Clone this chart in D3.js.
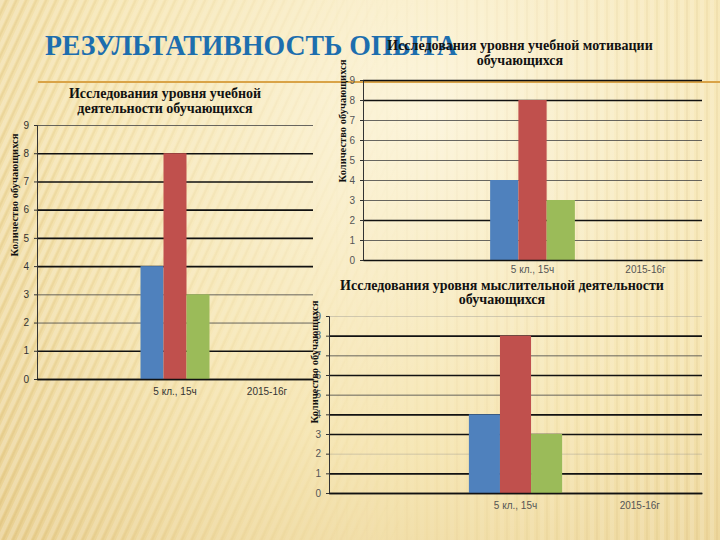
<!DOCTYPE html>
<html>
<head>
<meta charset="utf-8">
<script src="https://cdn.jsdelivr.net/npm/d3@7"></script>
<style>
  html, body { margin: 0; padding: 0; background: #F7EAC0; }
  svg { display: block; }
</style>
</head>
<body>
<svg id="slide" width="720" height="540"></svg>
<script>
// ---------- data ----------
const slideTitle = "РЕЗУЛЬТАТИВНОСТЬ ОПЫТА";
const categories = ["", "5 кл., 15ч", "2015-16г"];
const dataCategory = "5 кл., 15ч";
const seriesNames = ["Ряд 1", "Ряд 2", "Ряд 3"];
const learningActivityValues = [4, 8, 3];
const learningMotivationValues = [4, 8, 3];
const thinkingActivityValues = [4, 8, 3];
const yTickValues = [0, 1, 2, 3, 4, 5, 6, 7, 8, 9];
const yAxisLabel = "Количество обучающихся";
const titleActivity = ["Исследования уровня учебной", "деятельности обучающихся"];
const titleMotivation = ["Исследования уровня учебной мотивации", "обучающихся"];
const titleThinking = ["Исследования уровня мыслительной деятельности", "обучающихся"];
const seriesColors = ["#4F81BD", "#C0504D", "#9BBB59"];

// ---------- layout ----------
const svg = d3.select("#slide");
const defs = svg.append("defs");

const bg = defs.append("radialGradient").attr("id", "bgGrad")
  .attr("gradientUnits", "userSpaceOnUse")
  .attr("cx", 430).attr("cy", 110).attr("r", 620);
bg.append("stop").attr("offset", "0").attr("stop-color", "#FCF5DC");
bg.append("stop").attr("offset", "0.55").attr("stop-color", "#F6E6B4");
bg.append("stop").attr("offset", "1").attr("stop-color", "#E8CE8E");

const diag = defs.append("pattern").attr("id", "diag")
  .attr("patternUnits", "userSpaceOnUse").attr("width", 9).attr("height", 9)
  .attr("patternTransform", "rotate(25)");
diag.append("rect").attr("width", 4).attr("height", 9).attr("fill", "rgba(255,255,255,0.22)");
diag.append("rect").attr("x", 5).attr("width", 2).attr("height", 9).attr("fill", "rgba(190,150,60,0.12)");

const vert = defs.append("pattern").attr("id", "vert")
  .attr("patternUnits", "userSpaceOnUse").attr("width", 10).attr("height", 10);
vert.append("rect").attr("width", 4).attr("height", 10).attr("fill", "rgba(255,255,255,0.16)");
vert.append("rect").attr("x", 6).attr("width", 2).attr("height", 10).attr("fill", "rgba(170,130,50,0.07)");

const fadeL = defs.append("linearGradient").attr("id", "fadeL");
fadeL.append("stop").attr("offset", "0").attr("stop-color", "#fff").attr("stop-opacity", 1);
fadeL.append("stop").attr("offset", "1").attr("stop-color", "#fff").attr("stop-opacity", 0);
defs.append("mask").attr("id", "maskL")
  .append("rect").attr("width", 420).attr("height", 540).attr("fill", "url(#fadeL)");
const fadeR = defs.append("linearGradient").attr("id", "fadeR");
fadeR.append("stop").attr("offset", "0").attr("stop-color", "#fff").attr("stop-opacity", 0);
fadeR.append("stop").attr("offset", "1").attr("stop-color", "#fff").attr("stop-opacity", 1);
defs.append("mask").attr("id", "maskR")
  .append("rect").attr("x", 300).attr("width", 420).attr("height", 540).attr("fill", "url(#fadeR)");

svg.append("rect").attr("width", 720).attr("height", 540).attr("fill", "url(#bgGrad)");
svg.append("rect").attr("width", 420).attr("height", 540).attr("fill", "url(#diag)").attr("mask", "url(#maskL)");
svg.append("rect").attr("x", 300).attr("width", 420).attr("height", 540).attr("fill", "url(#vert)").attr("mask", "url(#maskR)");

// orange rule under title
svg.append("line").attr("x1", 38).attr("x2", 720).attr("y1", 82).attr("y2", 82)
  .attr("stroke", "#D9A347").attr("stroke-width", 2.2);

// slide title
svg.append("text").attr("x", 45).attr("y", 55)
  .attr("font-family", "Liberation Serif, serif").attr("font-weight", "bold")
  .attr("font-size", 30).attr("fill", "#1D6EAE")
  .attr("textLength", 412).attr("lengthAdjust", "spacingAndGlyphs")
  .text(slideTitle);

// ---------- chart builder ----------
function drawChart(cfg) {
  const g = svg.append("g");
  const x = d3.scaleBand().domain(categories).range([cfg.left, cfg.right]);
  const y = d3.scaleLinear().domain([0, 9]).range([cfg.bottom, cfg.top]);

  // gridlines
  const grid = g.append("g").attr("transform", `translate(${cfg.left},0)`)
    .call(d3.axisLeft(y).tickValues(yTickValues).tickSize(-(cfg.right - cfg.left)).tickFormat(""));
  grid.select(".domain").remove();
  grid.selectAll(".tick line")
    .attr("stroke", (d) => cfg.gridStyle[d] === "b" ? "#111" : cfg.gridStyle[d] === "t" ? "#444" : "#888")
    .attr("stroke-width", (d) => cfg.gridStyle[d] === "b" ? 1.6 : 1)
    .attr("stroke-opacity", (d) => cfg.gridStyle[d] === "f" ? 0.35 : (cfg.gridStyle[d] === "t" ? 0.8 : 1));

  // bars
  const groupW = x.bandwidth() * 0.75;
  const xs = d3.scaleBand().domain(seriesNames).range([0, groupW]);
  const x0 = x(dataCategory) + (x.bandwidth() - groupW) / 2;
  g.append("g").selectAll("rect").data(cfg.values).join("rect")
    .attr("x", (d, i) => x0 + xs(seriesNames[i]))
    .attr("width", xs.bandwidth())
    .attr("y", (d) => y(d))
    .attr("height", (d) => y(0) - y(d))
    .attr("fill", (d, i) => seriesColors[i]);

  // y axis with labels
  const ya = g.append("g").attr("transform", `translate(${cfg.left},0)`)
    .call(d3.axisLeft(y).tickValues(yTickValues).tickSize(3).tickPadding(cfg.tickPad).tickFormat(d3.format("d")));
  ya.select(".domain").attr("stroke", "#333").attr("stroke-width", 1);
  ya.selectAll(".tick line").attr("stroke", "#333");
  ya.selectAll(".tick text").attr("font-family", "Liberation Sans, Arial, sans-serif")
    .attr("font-size", 10).attr("fill", cfg.tickColor);

  // x axis line and labels
  const xa = g.append("g").attr("transform", `translate(0,${cfg.bottom})`)
    .call(d3.axisBottom(x).tickSize(0).tickPadding(cfg.catPad));
  xa.select(".domain").attr("stroke", "#111").attr("stroke-width", 1.5);
  xa.selectAll(".tick text").attr("font-family", "Liberation Sans, Arial, sans-serif")
    .attr("font-size", 10).attr("fill", cfg.tickColor);

  // y axis title
  g.append("text")
    .attr("transform", `translate(${cfg.yLabelX},${cfg.yLabelY}) rotate(-90)`)
    .attr("text-anchor", "middle")
    .attr("font-family", "Liberation Serif, serif").attr("font-weight", "bold")
    .attr("font-size", 10.5).attr("fill", "#111")
    .text(yAxisLabel);

  // chart title
  cfg.title.forEach((line, i) => {
    g.append("text").attr("x", cfg.titleX).attr("y", cfg.titleY + i * cfg.titleGap)
      .attr("text-anchor", "middle")
      .attr("font-family", "Liberation Serif, serif").attr("font-weight", "bold")
      .attr("font-size", 14).attr("fill", "#111")
      .text(line);
  });
}

drawChart({
  left: 37, right: 313, top: 125, bottom: 379,
  values: learningActivityValues,
  gridStyle: { 0: "b", 1: "b", 2: "t", 3: "t", 4: "b", 5: "b", 6: "b", 7: "b", 8: "b", 9: "t" },
  tickPad: 5, catPad: 9, tickColor: "#333",
  yLabelX: 18, yLabelY: 195,
  title: titleActivity, titleX: 165, titleY: 98, titleGap: 15
});

drawChart({
  left: 363, right: 702, top: 80, bottom: 260,
  values: learningMotivationValues,
  gridStyle: { 0: "t", 1: "t", 2: "b", 3: "t", 4: "t", 5: "t", 6: "t", 7: "t", 8: "b", 9: "b" },
  tickPad: 5, catPad: 6, tickColor: "#555",
  yLabelX: 346, yLabelY: 121,
  title: titleMotivation, titleX: 520, titleY: 50, titleGap: 15
});

drawChart({
  left: 329, right: 702, top: 316, bottom: 493,
  values: thinkingActivityValues,
  gridStyle: { 0: "b", 1: "b", 2: "f", 3: "b", 4: "b", 5: "t", 6: "b", 7: "t", 8: "b", 9: "f" },
  tickPad: 5, catPad: 9, tickColor: "#555",
  yLabelX: 318, yLabelY: 362,
  title: titleThinking, titleX: 502, titleY: 290, titleGap: 14
});
</script>
</body>
</html>
